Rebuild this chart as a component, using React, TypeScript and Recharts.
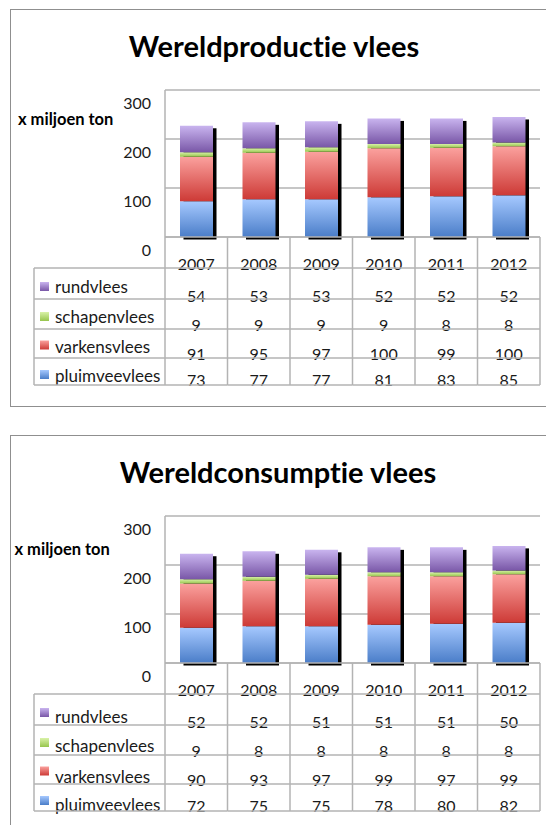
import React from 'react';
import { BarChart, Bar, XAxis, YAxis, CartesianGrid } from 'recharts';

// ---------- data ----------
const YEARS = ['2007', '2008', '2009', '2010', '2011', '2012'];

const PROD_PLUIMVEE = [73, 77, 77, 81, 83, 85];
const PROD_VARKENS = [91, 95, 97, 100, 99, 100];
const PROD_SCHAPEN = [9, 9, 9, 9, 8, 8];
const PROD_RUND = [54, 53, 53, 52, 52, 52];

const CONS_PLUIMVEE = [72, 75, 75, 78, 80, 82];
const CONS_VARKENS = [90, 93, 97, 99, 97, 99];
const CONS_SCHAPEN = [9, 8, 8, 8, 8, 8];
const CONS_RUND = [52, 52, 51, 51, 51, 50];

const Y_TICKS = [0, 100, 200, 300];

const TITLE_PROD = 'Wereldproductie vlees';
const TITLE_CONS = 'Wereldconsumptie vlees';
const UNIT_LABEL = 'x miljoen ton';

// stacking order bottom -> top
const SERIES = [
  { key: 'pluimveevlees', grad: 'gBlue', top: '#a6c9ff', bottom: '#4a7dc8' },
  { key: 'varkensvlees', grad: 'gRed', top: '#fba19e', bottom: '#cd3a36' },
  { key: 'schapenvlees', grad: 'gGreen', top: '#d9f2a8', bottom: '#97c54d' },
  { key: 'rundvlees', grad: 'gPurple', top: '#c9b4ef', bottom: '#7957a7' },
];
const TABLE_ORDER = [...SERIES].reverse();

const buildRows = (p: number[], v: number[], s: number[], r: number[]) =>
  YEARS.map((year, i) => ({
    year,
    pluimveevlees: p[i],
    varkensvlees: v[i],
    schapenvlees: s[i],
    rundvlees: r[i],
  }));

const PROD_ROWS = buildRows(PROD_PLUIMVEE, PROD_VARKENS, PROD_SCHAPEN, PROD_RUND);
const CONS_ROWS = buildRows(CONS_PLUIMVEE, CONS_VARKENS, CONS_SCHAPEN, CONS_RUND);

// ---------- styles ----------
const FONT = "Lato, 'Noto Sans', sans-serif";
const TXT = '#1a1a1a';
const LINE = '#b3b3b3';
const NUM_SIZE = 16;
const NOLIG = { fontVariantLigatures: 'none' as const };

const ShadowBase = (props: any) => {
  const { x, y, width, height, payload, fill } = props;
  const total = SERIES.reduce((s, k) => s + (payload[k.key] || 0), 0);
  const unit = payload.pluimveevlees ? height / payload.pluimveevlees : 0;
  const totalH = total * unit;
  const top = y + height - totalH;
  return (
    <g>
      <rect x={x + 3.5} y={top + 2.5} width={width} height={totalH} fill="#000" />
      <rect x={x} y={y} width={width} height={height} fill={fill} />
    </g>
  );
};

const YTick = (props: any) => {
  const { x, y, payload } = props;
  return (
    <text x={x} y={y + 18.5} textAnchor="end" fill={TXT} fontFamily={FONT} fontSize={NUM_SIZE}>
      {payload.value}
    </text>
  );
};

const makeTableTick = (rows: any[], labelBase: number[]) => (props: any) => {
  const { x, y, index, payload } = props;
  const n = rows.length;
  const band = typeof props.width === 'number' && props.width > 0 ? props.width / n : 62.5;
  const left = x - band / 2;
  const right = x + band / 2;
  const rowLines = [31, 62, 92, 121, 148];
  const valueBase = [64.5, 94, 122.5, 148.5];
  const markerTop = [45, 75, 103.5, 133];
  const legendLeft = left - 131;
  const row = rows[index] || {};
  return (
    <g>
      <text x={x} y={y + 32.5} textAnchor="middle" fill={TXT} fontFamily={FONT} fontSize={NUM_SIZE}>
        {payload.value}
      </text>
      {TABLE_ORDER.map((s, k) => (
        <text key={s.key} x={x} y={y + valueBase[k]} textAnchor="middle" fill={TXT} fontFamily={FONT} fontSize={NUM_SIZE}>
          {row[s.key]}
        </text>
      ))}
      {index === 0 &&
        TABLE_ORDER.map((s, k) => (
          <g key={'lg' + s.key}>
            <rect x={legendLeft + 6} y={y + markerTop[k]} width={9} height={9} fill={`url(#${s.grad})`} />
            <text x={legendLeft + 21} y={y + labelBase[k]} fill={TXT} fontFamily={FONT} fontSize={17} style={NOLIG}>
              {s.key}
            </text>
          </g>
        ))}
      <line x1={left} x2={left} y1={y} y2={y + 148} stroke={LINE} strokeWidth={1.5} />
      {index === n - 1 && <line x1={right} x2={right} y1={y} y2={y + 148} stroke={LINE} strokeWidth={1.5} />}
      {rowLines.map((r) => (
        <line key={r} x1={left} x2={right} y1={y + r} y2={y + r} stroke={LINE} strokeWidth={1.5} />
      ))}
      {index === 0 && (
        <g>
          <line x1={legendLeft} x2={legendLeft} y1={y + 31} y2={y + 148} stroke={LINE} strokeWidth={1.5} />
          {rowLines.map((r) => (
            <line key={'l' + r} x1={legendLeft} x2={left} y1={y + r} y2={y + r} stroke={LINE} strokeWidth={1.5} />
          ))}
        </g>
      )}
    </g>
  );
};

type ChartProps = {
  title: string;
  rows: any[];
  offsetTop: number;
  titleX: number;
  unitX: number;
  unitY: number;
  labelBase: number[];
};

const MeatChart = ({ title, rows, offsetTop, titleX, unitX, unitY, labelBase }: ChartProps) => {
  const Tick = makeTableTick(rows, labelBase);
  return (
    <div style={{ position: 'absolute', left: 0, top: offsetTop, width: 546, height: 410 }}>
      <div
        style={{
          position: 'absolute',
          left: 9.5,
          top: 8.5,
          width: 600,
          height: 398,
          border: '1.5px solid #8f8f8f',
          boxSizing: 'border-box',
        }}
      />
      <div style={{ position: 'absolute', left: 0, top: 0 }}>
        <BarChart
          width={546}
          height={410}
          data={rows}
          margin={{ top: 90, right: 6, left: 105, bottom: 3 }}
        >
          <CartesianGrid horizontal vertical={false} stroke={LINE} strokeWidth={1.5} />
          <YAxis
            type="number"
            domain={[0, 300]}
            ticks={Y_TICKS}
            width={60}
            tickSize={0}
            tickMargin={14}
            tickLine={false}
            axisLine={{ stroke: LINE, strokeWidth: 1.5 }}
            tick={<YTick />}
            interval={0}
          />
          <XAxis
            dataKey="year"
            height={170}
            tickSize={0}
            tickMargin={0}
            tickLine={false}
            axisLine={{ stroke: LINE, strokeWidth: 1.5 }}
            tick={<Tick />}
            interval={0}
          />
          {SERIES.map((s, i) => (
            <Bar
              key={s.key}
              dataKey={s.key}
              stackId="a"
              barSize={33}
              fill={`url(#${s.grad})`}
              isAnimationActive={false}
              shape={i === 0 ? ShadowBase : undefined}
            />
          ))}
        </BarChart>
      </div>
      <svg
        width={546}
        height={410}
        style={{ position: 'absolute', left: 0, top: 0, pointerEvents: 'none' }}
      >
        <text x={titleX} y={57} textAnchor="middle" fill="#000" fontFamily={FONT} fontWeight={700} fontSize={29} style={NOLIG}>
          {title}
        </text>
        <text x={unitX} y={unitY} fill="#000" fontFamily={FONT} fontWeight={700} fontSize={16.5} style={NOLIG}>
          {UNIT_LABEL}
        </text>
      </svg>
    </div>
  );
};

export default function App() {
  return (
    <div
      style={{
        position: 'absolute',
        left: 0,
        top: 0,
        width: 546,
        height: 825,
        overflow: 'hidden',
        background: '#fff',
      }}
    >
      <svg width={0} height={0} style={{ position: 'absolute' }}>
        <defs>
          {SERIES.map((s) => (
            <linearGradient key={s.grad} id={s.grad} x1="0" y1="0" x2="0" y2="1">
              <stop offset="0%" stopColor={s.top} />
              <stop offset="100%" stopColor={s.bottom} />
            </linearGradient>
          ))}
        </defs>
      </svg>
      <MeatChart
        title={TITLE_PROD}
        rows={PROD_ROWS}
        offsetTop={0}
        titleX={274}
        unitX={18}
        unitY={125}
        labelBase={[56, 85.5, 116, 144.5]}
      />
      <MeatChart
        title={TITLE_CONS}
        rows={CONS_ROWS}
        offsetTop={426}
        titleX={278}
        unitX={14.5}
        unitY={129}
        labelBase={[59.5, 89, 119.5, 148]}
      />
    </div>
  );
}
